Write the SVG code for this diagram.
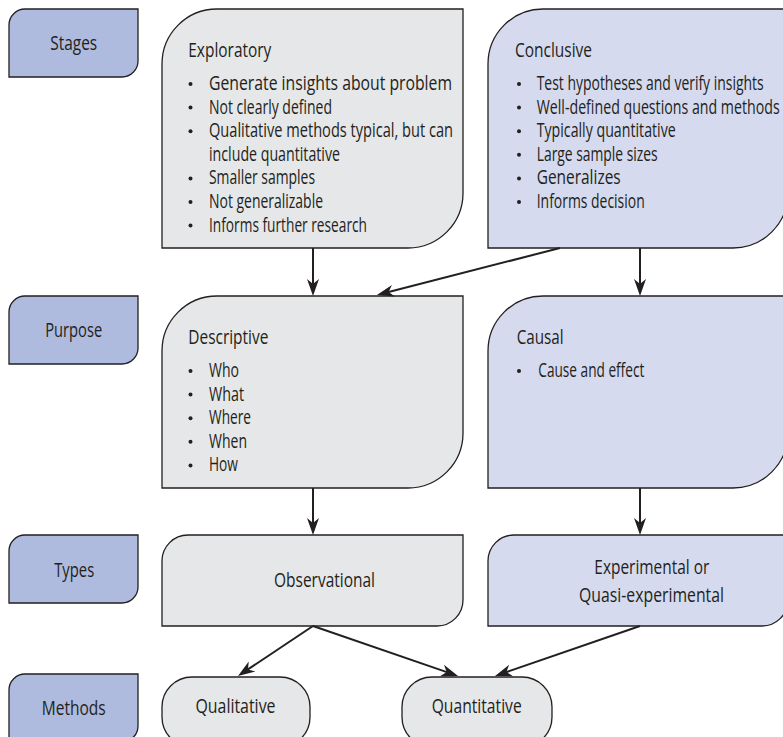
<svg xmlns="http://www.w3.org/2000/svg" width="783" height="737" viewBox="0 0 783 737">
  <style>
    text { font-family: "Open Sans", "Noto Sans", "Liberation Sans", sans-serif; font-size: 20px; fill: #231f20; }
    .mid { text-anchor: middle; }
    .stage { fill: #aebbdf; stroke: #231f20; stroke-width: 1.3; }
    .grey { fill: #e6e7e8; stroke: #231f20; stroke-width: 1.3; }
    .blue { fill: #d5daee; stroke: #231f20; stroke-width: 1.3; }
    .dot { fill: #231f20; }
    .link { fill: none; stroke: #231f20; stroke-width: 2; marker-end: url(#arrow); }
  </style>
  <defs>
    <marker id="arrow" viewBox="-10 -7 20 14" markerWidth="20" markerHeight="14" refX="0" refY="0" markerUnits="userSpaceOnUse" orient="auto">
      <path d="M8,0 L-9,-6 L-4,0 L-9,6 Z" fill="#231f20"/>
    </marker>
  </defs>

  <!-- Row labels -->
  <g id="stages">
    <path class="stage" d="M9,25 A16,16 0 0 1 25,9 L138,9 L138,61 A16,16 0 0 1 122,77 L9,77 Z"/>
    <text class="mid" x="73.7" y="50" textLength="47" lengthAdjust="spacingAndGlyphs">Stages</text>
  </g>
  <g id="purpose">
    <path class="stage" d="M9,312 A16,16 0 0 1 25,296 L138,296 L138,348 A16,16 0 0 1 122,364 L9,364 Z"/>
    <text class="mid" x="73.7" y="337" textLength="57" lengthAdjust="spacingAndGlyphs">Purpose</text>
  </g>
  <g id="types">
    <path class="stage" d="M9,551 A16,16 0 0 1 25,535 L138,535 L138,587 A16,16 0 0 1 122,603 L9,603 Z"/>
    <text class="mid" x="74.2" y="577" textLength="40" lengthAdjust="spacingAndGlyphs">Types</text>
  </g>
  <g id="methods">
    <path class="stage" d="M9,690 A16,16 0 0 1 25,674 L138,674 L138,726 A16,16 0 0 1 122,742 L9,742 Z"/>
    <text class="mid" x="73.7" y="715" textLength="64" lengthAdjust="spacingAndGlyphs">Methods</text>
  </g>

  <!-- Stage boxes -->
  <g id="exploratory">
    <path class="grey" d="M162,64 A55,55 0 0 1 217,9 L463,9 L463,193 A55,55 0 0 1 408,248 L162,248 Z"/>
    <text x="188.3" y="57" textLength="83" lengthAdjust="spacingAndGlyphs">Exploratory</text>
    <g class="dot">
      <circle cx="190.5" cy="84" r="2"/><circle cx="190.5" cy="107.6" r="2"/><circle cx="190.5" cy="131.2" r="2"/>
      <circle cx="190.5" cy="178.4" r="2"/><circle cx="190.5" cy="202" r="2"/><circle cx="190.5" cy="225.6" r="2"/>
    </g>
    <text x="209" y="90" textLength="243" lengthAdjust="spacingAndGlyphs">Generate insights about problem</text>
    <text x="209" y="113.6" textLength="123" lengthAdjust="spacingAndGlyphs">Not clearly defined</text>
    <text x="209" y="137.2" textLength="244" lengthAdjust="spacingAndGlyphs">Qualitative methods typical, but can</text>
    <text x="209" y="160.8" textLength="131" lengthAdjust="spacingAndGlyphs">include quantitative</text>
    <text x="209" y="184.4" textLength="106" lengthAdjust="spacingAndGlyphs">Smaller samples</text>
    <text x="209" y="208" textLength="114" lengthAdjust="spacingAndGlyphs">Not generalizable</text>
    <text x="209" y="231.6" textLength="158" lengthAdjust="spacingAndGlyphs">Informs further research</text>
  </g>
  <g id="conclusive">
    <path class="blue" d="M488,64 A55,55 0 0 1 543,9 L788,9 L788,193 A55,55 0 0 1 733,248 L488,248 Z"/>
    <text x="515" y="57" textLength="77" lengthAdjust="spacingAndGlyphs">Conclusive</text>
    <g class="dot">
      <circle cx="519" cy="84" r="2"/><circle cx="519" cy="107.6" r="2"/><circle cx="519" cy="131.2" r="2"/>
      <circle cx="519" cy="154.8" r="2"/><circle cx="519" cy="178.4" r="2"/><circle cx="519" cy="202" r="2"/>
    </g>
    <text x="536.7" y="90" textLength="227" lengthAdjust="spacingAndGlyphs">Test hypotheses and verify insights</text>
    <text x="536.7" y="113.6" textLength="243" lengthAdjust="spacingAndGlyphs">Well-defined questions and methods</text>
    <text x="536.7" y="137.2" textLength="139" lengthAdjust="spacingAndGlyphs">Typically quantitative</text>
    <text x="536.7" y="160.8" textLength="121" lengthAdjust="spacingAndGlyphs">Large sample sizes</text>
    <text x="536.7" y="184.4" textLength="84" lengthAdjust="spacingAndGlyphs">Generalizes</text>
    <text x="536.7" y="208" textLength="108" lengthAdjust="spacingAndGlyphs">Informs decision</text>
  </g>

  <!-- Purpose boxes -->
  <g id="descriptive">
    <path class="grey" d="M162,351 A55,55 0 0 1 217,296 L463,296 L463,433 A55,55 0 0 1 408,488 L162,488 Z"/>
    <text x="188.3" y="344" textLength="80" lengthAdjust="spacingAndGlyphs">Descriptive</text>
    <g class="dot">
      <circle cx="190.5" cy="371" r="2"/><circle cx="190.5" cy="394.6" r="2"/><circle cx="190.5" cy="418.2" r="2"/>
      <circle cx="190.5" cy="441.8" r="2"/><circle cx="190.5" cy="465.4" r="2"/>
    </g>
    <text x="209" y="377" textLength="30" lengthAdjust="spacingAndGlyphs">Who</text>
    <text x="209" y="400.6" textLength="35" lengthAdjust="spacingAndGlyphs">What</text>
    <text x="209" y="424.2" textLength="42" lengthAdjust="spacingAndGlyphs">Where</text>
    <text x="209" y="447.8" textLength="38" lengthAdjust="spacingAndGlyphs">When</text>
    <text x="209" y="471.4" textLength="29" lengthAdjust="spacingAndGlyphs">How</text>
  </g>
  <g id="causal">
    <path class="blue" d="M488,351 A55,55 0 0 1 543,296 L788,296 L788,433 A55,55 0 0 1 733,488 L488,488 Z"/>
    <text x="516.7" y="344" textLength="47" lengthAdjust="spacingAndGlyphs">Causal</text>
    <circle class="dot" cx="519" cy="371" r="2"/>
    <text x="538.3" y="377" textLength="106" lengthAdjust="spacingAndGlyphs">Cause and effect</text>
  </g>

  <!-- Type boxes -->
  <g id="observational">
    <path class="grey" d="M162,561 A26,26 0 0 1 188,535 L463,535 L463,600 A26,26 0 0 1 437,626 L162,626 Z"/>
    <text class="mid" x="324.5" y="587" textLength="101" lengthAdjust="spacingAndGlyphs">Observational</text>
  </g>
  <g id="experimental">
    <path class="blue" d="M488,561 A26,26 0 0 1 514,535 L788,535 L788,600 A26,26 0 0 1 762,626 L488,626 Z"/>
    <text class="mid" x="651.8" y="574" textLength="115" lengthAdjust="spacingAndGlyphs">Experimental or</text>
    <text class="mid" x="651.5" y="602" textLength="145" lengthAdjust="spacingAndGlyphs">Quasi-experimental</text>
  </g>

  <!-- Method pills -->
  <g id="qualitative">
    <rect class="grey" x="162" y="677" width="148" height="70" rx="30" ry="30"/>
    <text class="mid" x="235.5" y="713" textLength="80" lengthAdjust="spacingAndGlyphs">Qualitative</text>
  </g>
  <g id="quantitative">
    <rect class="grey" x="402" y="677" width="150" height="70" rx="30" ry="30"/>
    <text class="mid" x="476.7" y="713" textLength="90" lengthAdjust="spacingAndGlyphs">Quantitative</text>
  </g>

  <!-- Connectors -->
  <g id="connectors">
    <path class="link" d="M313,248 L313,288"/>
    <path class="link" d="M560,248 L384.7,293"/>
    <path class="link" d="M640,248 L640,288"/>
    <path class="link" d="M313,488 L313,527"/>
    <path class="link" d="M640,488 L640,527"/>
    <path class="link" d="M313,626 L244.6,671.6"/>
    <path class="link" d="M313,626 L450.5,673.4"/>
    <path class="link" d="M640,626 L502.6,673.4"/>
  </g>
</svg>
